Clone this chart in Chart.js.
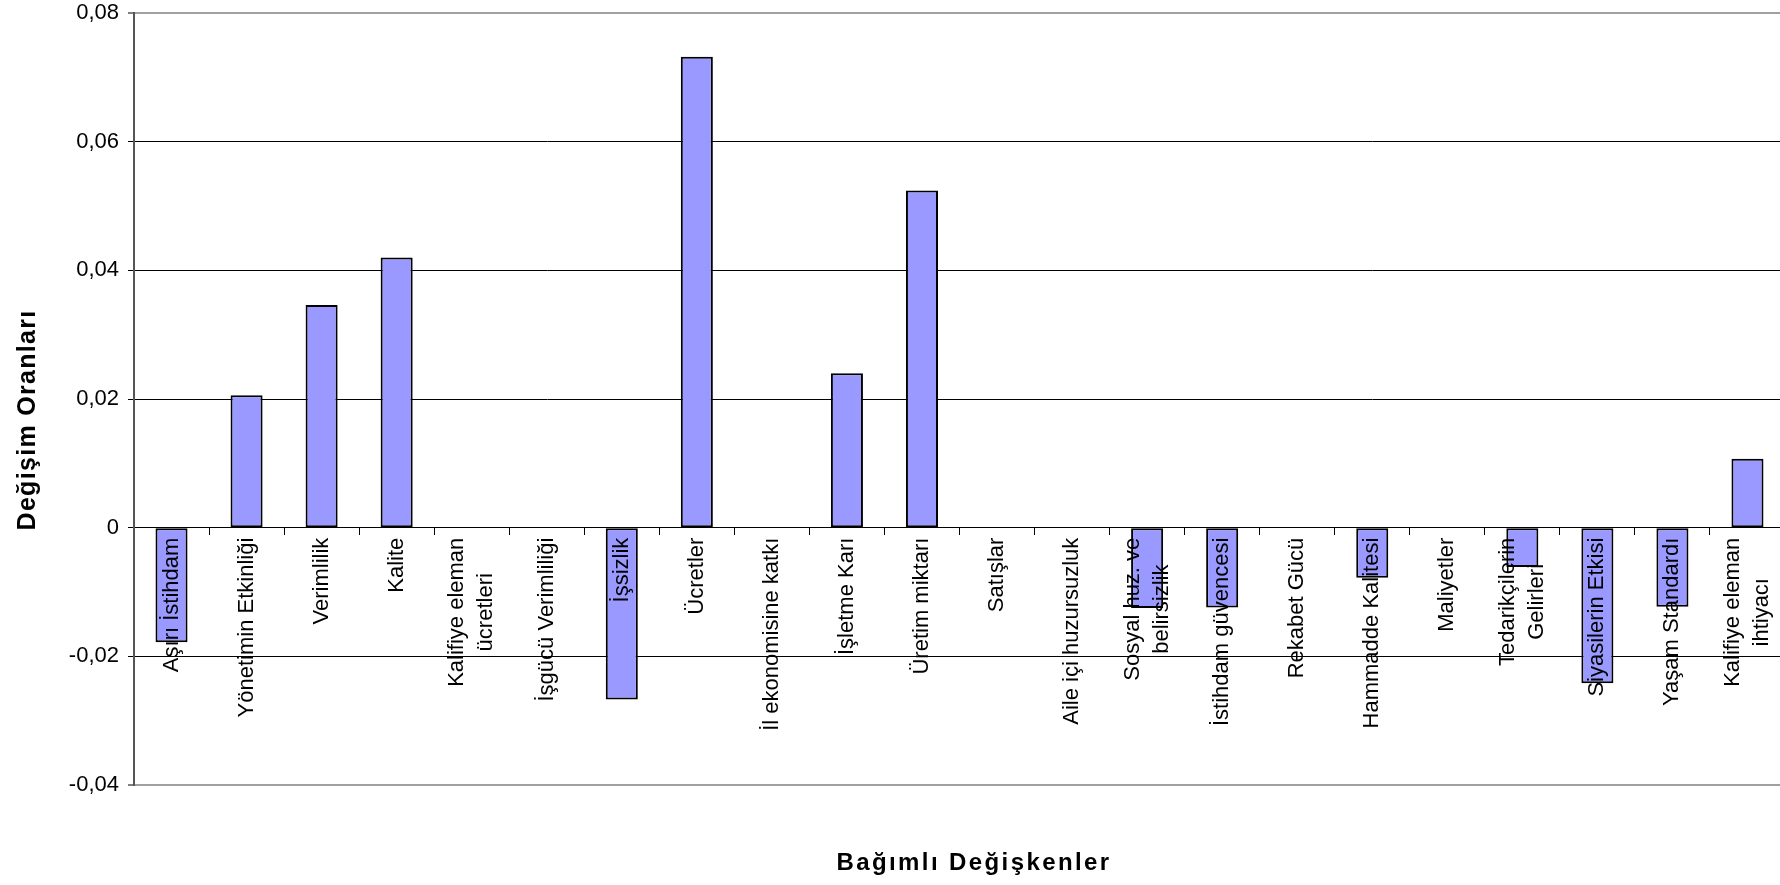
<!DOCTYPE html>
<html lang="tr">
<head>
<meta charset="utf-8">
<title>Değişim Oranları</title>
<script src="https://cdn.jsdelivr.net/npm/chart.js@4.4.1/dist/chart.umd.min.js"></script>
<style>
  html, body { margin: 0; padding: 0; background: #fff; overflow: hidden; }
  canvas { display: block; }
</style>
</head>
<body>
<canvas id="chart" width="1790" height="885"></canvas>
<script>
// Dependent variables (two-line names are given as arrays of lines)
const categories = [
  'Aşırı İstihdam', 'Yönetimin Etkinliği', 'Verimlilik', 'Kalite',
  ['Kalifiye eleman', 'ücretleri'], 'İşgücü Verimliliği', 'İşsizlik', 'Ücretler',
  'İl ekonomisine katkı', 'İşletme Karı', 'Üretim miktarı', 'Satışlar',
  'Aile içi huzursuzluk', ['Sosyal huz. ve', 'belirsizlik'], 'İstihdam güvencesi',
  'Rekabet Gücü', 'Hammadde Kalitesi', 'Maliyetler', ['Tedarikçilerin', 'Gelirleri'],
  'Siyasilerin Etkisi', 'Yaşam Standardı', ['Kalifiye eleman', 'ihtiyacı']
];

// Change rate of each dependent variable
const changeRates = [
  -0.0178, 0.0206, 0.0346, 0.0420,
  0, 0, -0.0267, 0.0732,
  0, 0.0240, 0.0524, 0,
  0, -0.0125, -0.0124,
  0, -0.0078, 0, -0.0061,
  -0.0242, -0.0123, 0.0107
];

const yTicks = [-0.04, -0.02, 0, 0.02, 0.04, 0.06, 0.08];
const yAxisTitle = 'Değişim Oranları';
const xAxisTitle = 'Bağımlı Değişkenler';

const FONT = '"Liberation Sans", Arial, Helvetica, sans-serif';
const LABEL_GAP = 10;
const LINE_HEIGHT = 29;

const formatRate = v => (v === 0 ? '0' : v.toFixed(2).replace('.', ','));

// Vertical category names hanging below the zero line, lines centred on each other
const categoryLabels = {
  id: 'categoryLabels',
  afterDatasetsDraw(chart) {
    const { ctx, scales: { x, y } } = chart;
    const y0 = y.getPixelForValue(0);
    ctx.save();
    ctx.font = '22px ' + FONT;
    ctx.fillStyle = '#000';
    ctx.textAlign = 'center';
    ctx.textBaseline = 'middle';
    categories.forEach((label, i) => {
      const lines = Array.isArray(label) ? label : [label];
      const widest = Math.max(...lines.map(l => ctx.measureText(l).width));
      ctx.save();
      ctx.translate(x.getPixelForValue(i), y0 + LABEL_GAP);
      ctx.rotate(-Math.PI / 2);
      lines.forEach((line, k) => {
        ctx.fillText(line, -widest / 2, (k - (lines.length - 1) / 2) * LINE_HEIGHT);
      });
      ctx.restore();
    });
    ctx.restore();
  }
};

// Bold, slightly spaced axis titles
const axisTitles = {
  id: 'axisTitles',
  afterDraw(chart) {
    const { ctx } = chart;
    ctx.save();
    ctx.fillStyle = '#000';
    ctx.textAlign = 'center';
    ctx.textBaseline = 'middle';

    ctx.font = 'bold 25px ' + FONT;
    ctx.letterSpacing = '1.3px';
    ctx.save();
    ctx.translate(28, 420);
    ctx.rotate(-Math.PI / 2);
    ctx.fillText(yAxisTitle, 0, 0);
    ctx.restore();

    ctx.font = 'bold 24px ' + FONT;
    ctx.letterSpacing = '2.4px';
    ctx.fillText(xAxisTitle, 974, 863);
    ctx.restore();
  }
};

const edgeValue = v => v === yTicks[0] || v === yTicks[yTicks.length - 1];

new Chart(document.getElementById('chart'), {
  type: 'bar',
  data: {
    labels: categories,
    datasets: [{
      data: changeRates,
      backgroundColor: '#9999FF',
      borderColor: '#000',
      borderWidth: 2,
      borderSkipped: false,
      categoryPercentage: 1,
      barPercentage: 0.427
    }]
  },
  options: {
    responsive: false,
    animation: false,
    layout: { padding: { left: 0, top: 13, right: 5, bottom: 100 } },
    plugins: {
      legend: { display: false },
      tooltip: { enabled: false },
      title: { display: false }
    },
    scales: {
      x: {
        position: { y: 0 },
        offset: true,
        grid: {
          offset: true,
          drawOnChartArea: false,
          drawTicks: true,
          tickLength: 7,
          tickColor: '#000',
          tickWidth: 1
        },
        border: { display: true, color: '#000', width: 1 },
        ticks: { display: false }
      },
      y: {
        min: yTicks[0],
        max: yTicks[yTicks.length - 1],
        afterBuildTicks: scale => { scale.ticks = yTicks.map(v => ({ value: v })); },
        afterFit: scale => {
          scale.width = 134;
          scale.paddingTop = 0;
          scale.paddingBottom = 0;
        },
        grid: {
          color: ctx => (ctx.tick && edgeValue(ctx.tick.value) ? '#a0a0a0' : '#000'),
          lineWidth: ctx => (ctx.tick && edgeValue(ctx.tick.value) ? 2 : 1),
          tickColor: '#000',
          tickLength: 6,
          tickWidth: 1
        },
        border: { display: true, color: '#555', width: 2 },
        ticks: {
          color: '#000',
          font: { family: FONT, size: 22 },
          padding: 9,
          callback: v => formatRate(v)
        }
      }
    }
  },
  plugins: [categoryLabels, axisTitles]
});
</script>
</body>
</html>
